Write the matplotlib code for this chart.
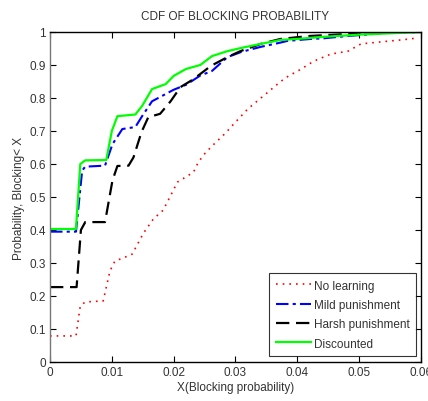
import matplotlib
matplotlib.use("Agg")
import matplotlib.pyplot as plt
from matplotlib.ticker import FixedLocator

plt.rcParams['font.family'] = ['Liberation Sans', 'DejaVu Sans']

title = "CDF OF BLOCKING PROBABILITY"
xlabel = "X(Blocking probability)"
ylabel = "Probability, Blocking< X"
series_names = ["No learning", "Mild punishment", "Harsh punishment", "Discounted"]

x_ticks = [0, 0.01, 0.02, 0.03, 0.04, 0.05, 0.06]
x_ticklabels = ["0", "0.01", "0.02", "0.03", "0.04", "0.05", "0.06"]
y_ticks = [0, 0.1, 0.2, 0.3, 0.4, 0.5, 0.6, 0.7, 0.8, 0.9, 1.0]
y_ticklabels = ["0", "0.1", "0.2", "0.3", "0.4", "0.5", "0.6", "0.7", "0.8", "0.9", "1"]

# No learning
red_x = [0.0, 0.0042, 0.0049, 0.0057, 0.0086, 0.0097, 0.0105, 0.0118, 0.0133,
         0.0151, 0.0167, 0.0183, 0.0198, 0.0206, 0.0219, 0.0232, 0.0240, 0.0251,
         0.0264, 0.0284, 0.0297, 0.0320, 0.0345, 0.0373, 0.0386, 0.0401, 0.0427,
         0.0454, 0.0482, 0.0503, 0.0535, 0.0568, 0.0595]
red_y = [0.079, 0.079, 0.17, 0.182, 0.185, 0.276, 0.306, 0.315, 0.327,
         0.39, 0.433, 0.46, 0.515, 0.545, 0.56, 0.575, 0.606, 0.633,
         0.658, 0.694, 0.721, 0.767, 0.806, 0.850, 0.867, 0.882, 0.912,
         0.933, 0.942, 0.964, 0.970, 0.976, 0.982]

# Mild punishment
blue_x = [0.0, 0.0042, 0.0052, 0.0057, 0.0089, 0.0101, 0.0117, 0.0138, 0.0149,
          0.0165, 0.0187, 0.0200, 0.0220, 0.0243, 0.0262, 0.0287, 0.0310, 0.0341,
          0.0373, 0.0384, 0.0422, 0.0443, 0.0482, 0.0524, 0.0540, 0.0600]
blue_y = [0.395, 0.395, 0.58, 0.592, 0.595, 0.66, 0.706, 0.712, 0.745,
          0.79, 0.812, 0.825, 0.84, 0.868, 0.882, 0.924, 0.94, 0.955,
          0.968, 0.973, 0.979, 0.981, 0.988, 0.994, 0.998, 1.0]

# Harsh punishment
black_x = [0.0, 0.0043, 0.0050, 0.0057, 0.0089, 0.0101, 0.0109, 0.0127, 0.0135,
           0.0148, 0.0159, 0.0178, 0.0195, 0.0211, 0.0232, 0.0260, 0.0287, 0.0308,
           0.0341, 0.0373, 0.0420, 0.0482, 0.0503, 0.0600]
black_y = [0.227, 0.227, 0.40, 0.424, 0.424, 0.55, 0.594, 0.595, 0.62,
           0.697, 0.742, 0.752, 0.79, 0.833, 0.857, 0.897, 0.924, 0.942,
           0.964, 0.979, 0.988, 0.994, 0.999, 1.0]

# Discounted
green_x = [0.0, 0.0042, 0.0049, 0.0057, 0.0091, 0.0100, 0.0109, 0.0138, 0.0149,
           0.0165, 0.0178, 0.0187, 0.0200, 0.0220, 0.0243, 0.0262, 0.0287, 0.0310,
           0.0341, 0.0373, 0.0400, 0.0440, 0.0500, 0.0600]
green_y = [0.403, 0.403, 0.60, 0.611, 0.612, 0.70, 0.745, 0.750, 0.776,
           0.827, 0.836, 0.842, 0.867, 0.888, 0.90, 0.927, 0.942, 0.952,
           0.964, 0.976, 0.979, 0.985, 0.992, 1.0]

fig = plt.figure(figsize=(4.28, 4.02), dpi=100)
ax = fig.add_axes([50/428, 39/402, 371/428, 330/402])

ax.plot(red_x, red_y, linestyle=(0, (1, 3)), color="#ff0000", lw=1.2, label=series_names[0])
ax.plot(blue_x, blue_y, linestyle=(0, (6, 2, 1.5, 2)), color="#0000ff", lw=1.5, label=series_names[1])
ax.plot(black_x, black_y, linestyle=(0, (6, 3)), color="black", lw=1.6, label=series_names[2])
ax.plot(green_x, green_y, linestyle="-", color="#00ff00", lw=1.6, label=series_names[3])

ax.set_xlim(0, 0.06)
ax.set_ylim(0, 1)
ax.xaxis.set_major_locator(FixedLocator(x_ticks))
ax.yaxis.set_major_locator(FixedLocator(y_ticks))
ax.set_xticklabels(x_ticklabels)
ax.set_yticklabels(y_ticklabels)
ax.tick_params(direction="in", top=True, right=True, length=4, width=0.8,
               labelsize=8.5, colors="black", labelcolor="#333333", pad=3)
for s in ax.spines.values():
    s.set_linewidth(1.0)
    s.set_color("black")
ax.spines["left"].set_color("#777777")

ax.set_title(title, fontsize=8.5, color="#333333", pad=9)
ax.set_xlabel(xlabel, fontsize=8.5, color="#333333", labelpad=2)
ax.set_ylabel(ylabel, fontsize=8.5, color="#333333", labelpad=3)

leg = ax.legend(loc="lower right", bbox_to_anchor=(366/371, 6/330), fontsize=8.5,
                frameon=True, fancybox=False, edgecolor="black", handlelength=3.0,
                handletextpad=0.2, borderpad=0.55, labelspacing=0.62, borderaxespad=0)
leg.get_frame().set_linewidth(0.8)
for t in leg.get_texts():
    t.set_color("#333333")

fig.savefig("out.png", dpi=100)
